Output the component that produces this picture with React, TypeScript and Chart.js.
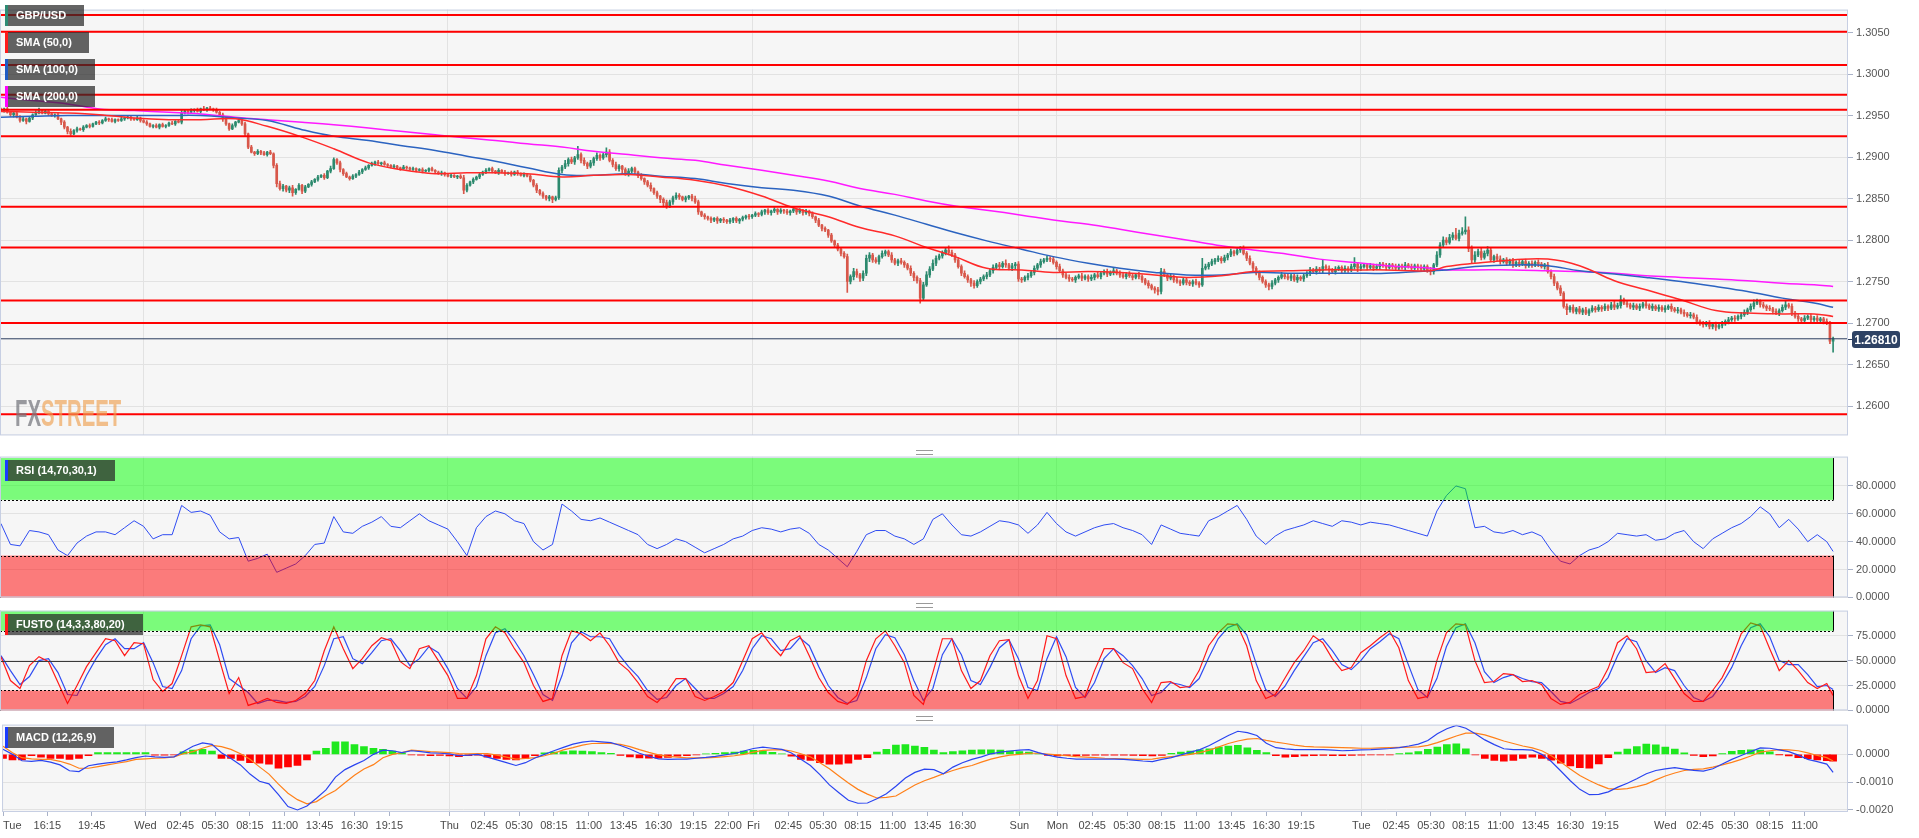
import React, { useEffect, useRef } from "react";
import { Chart, registerables } from "chart.js";

Chart.register(...registerables);

const FONT = "'Liberation Sans', Arial, Helvetica, sans-serif";
const PAGE_W = 1919;
const AXIS_W = 71;

// ---------- time axis (15-minute bars) ----------
const LAST_BAR = 578;
const X_MIN = -0.3;
const X_MAX = 582.7;
const TICK_IDX = [0, 14, 28, 45, 56, 67, 78, 89, 100, 111, 122, 141, 152, 163, 174, 185, 196, 207, 218, 229, 237, 248, 259, 270, 281, 292, 303, 321, 333, 344, 355, 366, 377, 388, 399, 410, 429, 440, 451, 462, 473, 484, 495, 506, 525, 536, 547, 558, 569];
const TICK_LABELS = ["Tue", "16:15", "19:45", "Wed", "02:45", "05:30", "08:15", "11:00", "13:45", "16:30", "19:15", "Thu", "02:45", "05:30", "08:15", "11:00", "13:45", "16:30", "19:15", "22:00", "Fri", "02:45", "05:30", "08:15", "11:00", "13:45", "16:30", "Sun", "Mon", "02:45", "05:30", "08:15", "11:00", "13:45", "16:30", "19:15", "Tue", "02:45", "05:30", "08:15", "11:00", "13:45", "16:30", "19:15", "Wed", "02:45", "05:30", "08:15", "11:00"];
const DAY_IDX = [45, 141, 237, 321, 333, 429, 525];

// ---------- GBP/USD candles: pips above 1.2000 ----------
const FIRST_OPEN = 957;
const CLOSE_PIPS = [
  956, 958, 954, 951, 953, 948, 944, 946, 943, 947,
  951, 954, 956, 953, 955, 952, 950, 951, 946, 942,
  936, 931, 928, 932, 934, 933, 936, 938, 937, 940,
  942, 941, 944, 946, 945, 943, 945, 944, 946, 947,
  948, 946, 945, 947, 944, 942, 940, 937, 938, 936,
  939, 937, 938, 941, 940, 943, 942, 953, 955, 954,
  956, 957, 955, 958, 957, 959, 958, 957, 954, 951,
  946, 940, 934, 938, 942, 944, 940, 928, 912, 906,
  904, 907, 905, 903, 906, 904, 890, 868, 862, 865,
  860, 863, 857, 861, 866, 859, 864, 867, 870, 873,
  876, 878, 875, 883, 886, 897, 893, 885, 880, 876,
  874, 877, 879, 882, 885, 887, 890, 892, 894, 892,
  893, 891, 890, 888, 889, 887, 886, 888, 887, 885,
  886, 884, 885, 883, 884, 886, 884, 882, 880, 881,
  879, 877, 878, 876, 877, 875, 860, 866, 870, 873,
  876, 879, 882, 884, 886, 883, 881, 884, 882, 880,
  881, 879, 882, 880, 878, 879, 877, 872, 866, 860,
  856, 853, 850, 852, 849, 851, 884, 888, 892, 897,
  894, 899, 903, 896, 892, 889, 893, 898, 902, 899,
  903, 906, 896, 891, 886, 889, 885, 880, 883, 886,
  882, 878, 874, 870, 866, 862, 857, 853, 849, 845,
  841, 846, 851, 854, 852, 849, 851, 853, 850, 846,
  834, 830, 828, 826, 824, 826, 823, 825, 824, 822,
  824, 826, 823, 825, 827, 829, 828, 830, 832, 831,
  834, 836, 833, 835, 837, 834, 836, 835, 833, 835,
  837, 834, 836, 833, 835, 832, 828, 824, 818, 814,
  812, 806, 799, 794, 789, 784, 780, 750, 756, 762,
  758, 754, 760, 778, 782, 776, 774, 780, 784, 786,
  782, 776, 772, 775, 773, 770, 766, 760, 755, 751,
  730, 746, 758, 765, 772, 778, 781, 784, 788, 785,
  782, 776, 768, 760, 756, 752, 748, 745, 750, 753,
  756, 758, 763, 767, 770, 768, 772, 770, 766, 769,
  771, 753, 752, 755, 757, 761, 766, 770, 774, 776,
  778, 777, 773, 768, 763, 758, 755, 753, 752, 755,
  757, 754, 756, 753, 755, 758, 756, 760, 762, 759,
  761, 763, 760, 758, 756, 759, 757, 755, 758, 756,
  752, 748, 745, 742, 740, 738, 762, 758, 754, 756,
  752, 750, 748, 752, 749, 747, 750, 748, 746, 766,
  768, 771, 774, 776, 778, 775, 779, 782, 786, 784,
  788, 790, 784, 778, 772, 766, 760, 755, 750, 746,
  744, 748, 752, 755, 758, 756, 754, 757, 752, 755,
  753, 757, 760, 764, 762, 765, 763, 768, 766, 764,
  762, 765, 767, 763, 766, 764, 768, 771, 766, 768,
  770, 767, 769, 766, 768, 771, 769, 767, 770, 768,
  766, 769, 767, 770, 768, 766, 769, 767, 765, 768,
  764, 762, 770, 782, 794, 800, 797, 803, 806, 802,
  808, 810, 812, 790, 776, 782, 786, 779, 784, 788,
  776, 780, 777, 774, 776, 772, 775, 770, 773, 771,
  774, 769, 772, 770, 773, 771, 768, 770, 762, 756,
  748, 742, 736, 720, 716, 719, 714, 717, 713, 716,
  712, 715, 718, 716, 719, 717, 720, 718, 722, 719,
  721, 728, 724, 722, 719, 721, 718, 720, 723, 721,
  718, 720, 717, 719, 716, 718, 720, 717, 715, 716,
  713, 711, 709, 710, 707, 702, 699, 698, 700, 696,
  698, 695, 697, 699, 702, 704, 706, 705, 708, 710,
  713, 716, 720, 724, 726, 722, 720, 718, 717, 714,
  712, 715, 719, 722, 720, 712, 708, 705, 703, 706,
  708, 704, 706, 703, 705, 702, 700, 678, 681,
];
const WICK_UP = [
  2, 1, 3, 1, 2, 1, 2, 3, 1, 2, 1, 2, 3, 1, 2, 1, 2, 1, 2, 1,
  2, 1, 3, 1, 2, 1, 2, 1, 2, 1, 1, 2, 1, 2, 1, 2, 1, 1, 2, 1,
  2, 1, 1, 2, 1, 1, 2, 1, 1, 2, 1, 2, 1, 1, 2, 1, 2, 3, 2, 1,
  2, 1, 2, 1, 3, 1, 2, 1, 2, 1, 2, 3, 1, 2, 1, 2, 1, 2, 1, 2,
  1, 2, 1, 2, 1, 2, 1, 2, 3, 2, 1, 2, 3, 1, 2, 1, 2, 1, 2, 1,
  2, 1, 2, 1, 3, 2, 1, 2, 1, 2, 1, 2, 1, 2, 1, 2, 1, 2, 1, 2,
  1, 2, 1, 1, 2, 1, 1, 2, 1, 1, 2, 1, 1, 2, 1, 1, 2, 1, 1, 2,
  1, 1, 2, 1, 1, 2, 3, 2, 1, 2, 1, 2, 1, 2, 1, 2, 1, 2, 1, 2,
  1, 2, 1, 2, 1, 2, 1, 2, 1, 2, 1, 2, 1, 2, 1, 2, 3, 2, 4, 2,
  3, 2, 10, 2, 3, 2, 3, 2, 3, 2, 2, 5, 3, 2, 3, 2, 1, 2, 3, 2,
  2, 1, 2, 1, 2, 3, 1, 2, 1, 2, 3, 2, 2, 3, 2, 1, 2, 1, 2, 3,
  2, 1, 2, 1, 2, 1, 2, 1, 2, 1, 2, 1, 2, 1, 2, 1, 2, 1, 2, 1,
  2, 1, 2, 1, 2, 1, 2, 1, 2, 1, 2, 1, 2, 1, 2, 1, 2, 1, 2, 1,
  2, 1, 2, 1, 2, 1, 2, 3, 2, 4, 3, 2, 3, 4, 3, 2, 3, 2, 3, 2,
  2, 3, 2, 2, 3, 2, 2, 3, 2, 2, 3, 3, 4, 3, 4, 3, 2, 3, 2, 5,
  3, 2, 3, 2, 3, 2, 2, 3, 2, 2, 2, 3, 2, 3, 2, 3, 2, 4, 2, 3,
  2, 3, 2, 2, 3, 2, 3, 2, 3, 2, 3, 2, 3, 2, 3, 2, 2, 3, 2, 2,
  2, 3, 2, 2, 3, 2, 3, 2, 2, 3, 2, 3, 2, 3, 2, 2, 3, 2, 2, 3,
  2, 2, 3, 2, 2, 3, 4, 3, 2, 3, 2, 3, 2, 2, 3, 2, 2, 3, 2, 12,
  3, 2, 3, 2, 3, 2, 3, 2, 3, 2, 3, 2, 3, 2, 3, 2, 2, 3, 2, 2,
  2, 3, 2, 2, 3, 2, 3, 2, 2, 3, 2, 3, 2, 3, 2, 3, 2, 8, 2, 3,
  2, 3, 2, 2, 3, 2, 3, 8, 2, 3, 2, 2, 3, 2, 3, 2, 2, 3, 2, 2,
  3, 2, 2, 3, 2, 3, 2, 2, 3, 2, 2, 3, 2, 4, 3, 4, 3, 4, 3, 8,
  4, 5, 16, 4, 3, 4, 3, 4, 3, 4, 3, 2, 3, 4, 2, 3, 2, 3, 2, 3,
  2, 3, 2, 3, 2, 3, 2, 2, 3, 2, 3, 2, 3, 2, 3, 2, 3, 2, 3, 2,
  3, 2, 3, 2, 3, 2, 3, 2, 3, 4, 3, 5, 2, 3, 2, 3, 2, 3, 2, 3,
  2, 3, 2, 3, 2, 3, 2, 3, 2, 3, 2, 3, 2, 3, 2, 3, 2, 3, 2, 3,
  2, 3, 2, 3, 2, 3, 2, 3, 2, 3, 3, 2, 3, 4, 3, 2, 3, 2, 3, 2,
  3, 2, 3, 4, 2, 3, 2, 3, 2, 3, 2, 3, 2, 3, 2, 2, 3, 2, 2,
];
const WICK_DN = [
  1, 2, 1, 2, 3, 1, 2, 1, 3, 1, 2, 1, 2, 1, 1, 2, 1, 2, 1, 3,
  2, 3, 2, 1, 2, 1, 2, 1, 2, 1, 1, 2, 1, 1, 2, 1, 2, 1, 1, 2,
  1, 2, 1, 1, 2, 1, 2, 1, 2, 1, 2, 1, 2, 1, 1, 2, 1, 2, 1, 2,
  1, 2, 1, 2, 1, 2, 1, 2, 1, 2, 3, 2, 2, 1, 2, 1, 2, 3, 2, 1,
  2, 1, 2, 1, 2, 1, 3, 4, 2, 3, 2, 3, 4, 2, 1, 3, 2, 1, 2, 1,
  2, 1, 2, 1, 2, 1, 2, 3, 2, 1, 2, 1, 2, 1, 2, 1, 2, 1, 2, 1,
  2, 1, 2, 1, 2, 1, 2, 1, 2, 1, 1, 2, 1, 2, 1, 2, 1, 2, 1, 2,
  2, 1, 2, 1, 2, 1, 4, 2, 1, 2, 1, 2, 1, 2, 1, 2, 1, 2, 1, 2,
  1, 2, 1, 2, 1, 2, 1, 2, 2, 3, 2, 3, 2, 3, 4, 2, 2, 3, 2, 3,
  2, 3, 2, 3, 2, 3, 2, 3, 2, 3, 2, 3, 2, 3, 2, 3, 6, 2, 3, 2,
  2, 3, 2, 3, 2, 3, 2, 3, 4, 5, 3, 2, 3, 2, 3, 2, 3, 2, 3, 2,
  3, 2, 3, 2, 3, 2, 3, 2, 3, 2, 2, 3, 2, 3, 2, 2, 3, 2, 2, 3,
  2, 3, 2, 3, 2, 3, 2, 3, 2, 3, 2, 3, 2, 3, 2, 3, 2, 3, 2, 3,
  2, 3, 2, 3, 2, 3, 2, 13, 3, 4, 3, 4, 3, 3, 4, 3, 2, 3, 2, 3,
  2, 3, 2, 3, 2, 3, 2, 3, 4, 3, 6, 3, 2, 3, 2, 3, 2, 3, 2, 3,
  2, 3, 2, 3, 2, 3, 4, 3, 2, 3, 2, 3, 2, 3, 2, 3, 2, 3, 2, 3,
  4, 3, 3, 2, 3, 2, 3, 2, 3, 2, 2, 3, 2, 3, 2, 3, 2, 3, 2, 3,
  2, 3, 2, 3, 2, 3, 2, 3, 2, 3, 2, 3, 2, 3, 2, 3, 2, 3, 2, 3,
  3, 2, 3, 2, 4, 4, 3, 2, 3, 2, 3, 2, 3, 2, 3, 2, 3, 2, 3, 2,
  2, 3, 2, 3, 2, 3, 2, 3, 2, 3, 2, 3, 2, 3, 2, 3, 2, 3, 2, 3,
  4, 3, 2, 3, 2, 3, 2, 3, 2, 3, 2, 3, 2, 3, 2, 3, 2, 3, 2, 6,
  2, 3, 2, 3, 2, 3, 2, 3, 4, 3, 2, 3, 2, 3, 2, 3, 2, 3, 2, 3,
  2, 3, 2, 3, 2, 3, 2, 3, 2, 3, 3, 4, 3, 2, 3, 2, 3, 2, 3, 2,
  3, 2, 3, 4, 4, 3, 2, 3, 2, 3, 2, 3, 2, 3, 2, 3, 2, 3, 2, 3,
  2, 3, 2, 3, 2, 3, 2, 3, 2, 3, 3, 2, 3, 2, 6, 3, 2, 3, 2, 3,
  2, 3, 2, 3, 2, 3, 2, 3, 2, 3, 2, 3, 2, 3, 2, 3, 2, 3, 2, 3,
  2, 3, 2, 3, 2, 3, 2, 3, 2, 3, 2, 3, 2, 3, 2, 3, 2, 3, 2, 3,
  3, 4, 2, 3, 2, 3, 2, 3, 2, 3, 2, 3, 2, 3, 2, 3, 2, 3, 2, 3,
  2, 3, 2, 3, 2, 3, 2, 3, 2, 3, 2, 3, 2, 3, 2, 3, 2, 3, 13,
];

// ---------- horizontal levels ----------
const LEVELS = [1.3071, 1.3051, 1.3011, 1.2975, 1.2957, 1.2925, 1.284, 1.2791, 1.2727, 1.27, 1.259];
const LAST_PRICE = 1.2681;
const PRICE_TICKS = [1.26, 1.265, 1.27, 1.275, 1.28, 1.285, 1.29, 1.295, 1.3, 1.305];

// ---------- moving averages (pips above 1.2000) ----------
const SMA_IDX = [0, 10, 21, 31, 42, 53, 63, 74, 84, 95, 105, 116, 126, 137, 147, 156, 166, 177, 187, 198, 208, 219, 229, 240, 250, 261, 271, 282, 292, 301, 311, 322, 332, 343, 353, 364, 374, 385, 395, 406, 416, 427, 437, 451, 456, 465, 477, 488, 498, 509, 519, 530, 541, 551, 562, 572, 578];
const SMA50 = [955, 954, 953, 951, 947, 945, 945, 946, 937, 924, 910, 893, 885, 880, 881, 881, 880, 876, 878, 879, 876, 872, 865, 853, 839, 828, 815, 805, 791, 780, 766, 764, 761, 762, 761, 758, 755, 757, 762, 763, 764, 764, 764, 763, 768, 772, 776, 777, 769, 751, 740, 728, 715, 712, 711, 711, 708];
const SMA100 = [948, 949, 950, 950, 950, 950, 950, 947, 944, 933, 925, 920, 914, 908, 901, 895, 887, 879, 878, 880, 877, 874, 868, 863, 860, 853, 841, 830, 819, 809, 799, 789, 780, 772, 766, 761, 758, 758, 761, 760, 760, 760, 760, 763, 764, 768, 770, 769, 763, 759, 755, 750, 744, 738, 730, 724, 719];
const SMA200 = [972, 968, 964, 958, 956, 954, 952, 948, 945, 942, 939, 935, 931, 927, 923, 920, 916, 912, 907, 903, 899, 896, 890, 884, 878, 871, 862, 855, 847, 841, 836, 830, 824, 819, 813, 806, 800, 793, 788, 783, 777, 773, 769, 766, 764, 764, 764, 763, 762, 760, 757, 755, 753, 751, 748, 746, 744];

// ---------- oscillators, sampled every 3 bars (last value = last bar) ----------
const OSC_STEP = 3;
const RSI = [
  53, 38, 37, 48, 47, 45, 34, 30, 39, 44, 47, 47, 45, 50, 55, 51, 42, 45, 45, 66,
  61, 62, 59, 47, 42, 43, 26, 28, 31, 18, 21, 24, 30, 38, 39, 58, 47, 46, 51, 54,
  58, 51, 50, 55, 60, 55, 52, 49, 40, 30, 50, 58, 62, 60, 55, 53, 40, 34, 38, 67,
  62, 56, 55, 57, 54, 51, 48, 45, 38, 35, 38, 42, 40, 36, 32, 35, 38, 42, 44, 48,
  50, 49, 47, 49, 50, 46, 38, 34, 28, 22, 33, 45, 48, 48, 44, 42, 38, 42, 56, 60,
  52, 45, 44, 47, 51, 55, 54, 52, 46, 52, 61, 53, 47, 44, 47, 50, 52, 53, 50, 48,
  45, 38, 52, 49, 46, 45, 44, 55, 58, 62, 66, 56, 44, 38, 44, 48, 50, 52, 55, 53,
  51, 55, 54, 52, 54, 53, 52, 50, 48, 46, 44, 62, 73, 80, 78, 50, 51, 47, 46, 48,
  45, 47, 44, 34, 26, 24, 30, 34, 36, 40, 46, 45, 44, 45, 41, 42, 46, 48, 40, 35,
  42, 46, 50, 53, 58, 65, 60, 50, 56, 49, 40, 45, 40, 33,
];
const STOCH_K = [
  54, 30, 22, 45, 54, 49, 28, 7, 25, 44, 58, 72, 70, 55, 68, 67, 31, 19, 27, 55,
  84, 86, 84, 50, 17, 33, 5, 8, 12, 8, 7, 10, 17, 30, 60, 84, 62, 42, 52, 65,
  73, 70, 49, 42, 62, 65, 50, 35, 12, 12, 35, 72, 84, 78, 62, 48, 25, 9, 12, 55,
  80, 77, 70, 78, 65, 48, 40, 28, 14, 8, 18, 32, 32, 14, 10, 14, 19, 28, 50, 72,
  78, 65, 55, 70, 75, 55, 33, 18, 9, 6, 15, 50, 72, 80, 65, 48, 15, 6, 38, 72,
  72, 40, 22, 30, 55, 70, 71, 35, 12, 30, 75, 72, 35, 12, 14, 40, 62, 62, 48, 42,
  22, 8, 28, 29, 23, 24, 40, 65, 78, 87, 86, 65, 30, 12, 16, 32, 48, 60, 75, 68,
  52, 40, 43, 58, 65, 73, 80, 63, 30, 12, 14, 50, 78, 87, 86, 50, 28, 29, 37, 36,
  29, 30, 26, 12, 6, 8, 16, 20, 24, 42, 68, 75, 62, 38, 39, 47, 32, 17, 9, 9,
  20, 33, 52, 77, 88, 85, 62, 40, 50, 40, 28, 22, 27, 15,
];
const STOCH_D = [
  55, 40, 26, 34, 50, 52, 38, 16, 15, 35, 52, 66, 72, 62, 62, 68, 48, 24, 22, 40,
  72, 85, 86, 66, 32, 25, 18, 7, 10, 10, 8, 9, 14, 24, 45, 72, 74, 52, 47, 58,
  70, 72, 60, 45, 52, 64, 58, 42, 22, 12, 24, 55, 78, 82, 70, 55, 36, 16, 10, 35,
  68, 79, 74, 74, 72, 56, 44, 34, 20, 11, 13, 25, 32, 22, 12, 12, 17, 24, 40, 62,
  75, 72, 60, 62, 73, 65, 44, 25, 13, 7, 10, 33, 62, 76, 73, 56, 30, 10, 22, 56,
  72, 56, 30, 26, 43, 63, 71, 52, 23, 20, 52, 74, 54, 23, 13, 28, 52, 62, 55, 45,
  32, 15, 18, 28, 26, 23, 32, 53, 72, 83, 87, 76, 47, 21, 14, 24, 40, 54, 68, 72,
  60, 46, 41, 50, 62, 69, 77, 72, 46, 21, 13, 32, 64, 83, 87, 68, 39, 28, 33, 36,
  32, 29, 28, 19, 9, 7, 12, 18, 22, 33, 55, 72, 69, 50, 38, 43, 40, 25, 13, 9,
  14, 27, 43, 65, 83, 87, 74, 50, 46, 46, 36, 24, 25, 21,
];
// MACD values in units of 0.0001
const MACD = [
  1.8, 0.0, -2.3, -2.5, -2.2, -2.8, -3.8, -5.9, -6.2, -4.1, -3.5, -3.1, -2.7, -2.0, -1.2, -0.6, -0.9, -1.1, -0.9, 1.0,
  2.9, 4.1, 3.6, 0.6, -1.5, -3.8, -7.1, -9.7, -10.6, -14.5, -18.8, -20.0, -18.6, -15.8, -12.8, -8.2, -5.5, -3.8, -2.2, 0.0,
  1.5, 1.3, 0.6, 1.3, 1.0, 0.5, 0.4, 0.2, -0.5, -0.3, 0.0, -1.0, -2.0, -3.0, -4.0, -3.0, -1.3, 0.0, 1.3, 2.5,
  3.7, 4.4, 4.8, 4.5, 4.2, 3.2, 1.9, 0.4, -0.7, -1.6, -1.8, -1.7, -1.7, -1.4, -1.1, -0.7, -0.2, 0.3, 1.2, 2.1,
  2.6, 2.2, 1.8, 0.5, -1.8, -4.0, -7.3, -11.0, -13.8, -16.5, -17.6, -17.5, -16.0, -14.2, -11.5, -8.5, -6.5, -5.3, -5.5, -7.0,
  -4.6, -3.0, -1.8, -0.9, 0.2, 0.8, 1.2, 1.5, 1.7, 0.6, -0.3, -1.0, -1.4, -1.7, -1.7, -1.7, -1.7, -1.7, -1.8, -2.1,
  -2.4, -2.6, -1.8, -1.2, -0.2, 0.8, 1.7, 3.2, 5.0, 6.8, 8.3, 7.8, 6.8, 4.0, 2.4, 2.0, 1.7, 1.7, 1.7, 1.7,
  1.5, 1.3, 1.4, 1.6, 1.7, 1.9, 2.1, 2.4, 3.0, 3.7, 5.0, 7.4, 9.2, 10.4, 9.4, 7.4, 5.2, 3.5, 2.0, 1.7,
  1.7, 1.5, 0.0, -2.6, -6.0, -9.5, -12.6, -14.5, -14.4, -13.5, -11.8, -10.4, -8.8, -7.0, -5.8, -5.2, -4.8, -5.3, -5.8, -6.0,
  -5.2, -3.5, -1.8, -0.4, 1.0, 2.3, 2.2, 1.6, 1.0, -0.3, -1.8, -2.6, -3.5, -6.5,
];
const MACD_SIGNAL = [
  2.9, 0.6, -1.2, -1.6, -1.8, -1.8, -2.5, -3.5, -5.0, -5.0, -4.4, -3.8, -3.2, -2.6, -1.8, -1.6, -1.4, -1.3, -0.9, 0.2,
  1.0, 2.2, 3.2, 2.8, 1.8, 0.2, -1.8, -4.5, -7.1, -10.7, -14.0, -16.3, -17.8, -17.0, -14.8, -13.0, -10.2, -7.5, -5.3, -3.7,
  -1.2, 0.0, 0.6, 1.5, 1.3, 1.0, 0.8, 0.6, 0.3, 0.2, 0.3, 0.3, -0.3, -1.0, -1.7, -1.5, -1.2, -0.5, 0.4, 1.6,
  2.4, 3.3, 3.9, 4.0, 3.9, 3.6, 2.8, 1.7, 0.7, -0.2, -0.7, -1.0, -1.3, -1.3, -1.3, -1.1, -0.8, -0.5, 0.0, 0.8,
  1.4, 1.6, 1.7, 1.2, 0.2, -0.9, -3.0, -5.2, -7.8, -10.3, -12.6, -14.3, -15.7, -15.5, -15.0, -13.0, -11.0, -9.5, -8.3, -7.0,
  -5.8, -4.8, -4.0, -2.8, -1.7, -0.9, -0.3, 0.0, 0.4, 0.4, 0.1, -0.2, -0.5, -0.8, -1.0, -1.2, -1.4, -1.5, -1.6, -1.7,
  -1.8, -1.7, -1.2, -0.8, -0.5, 0.0, 0.6, 1.5, 2.7, 3.9, 4.8, 5.5, 5.7, 5.0, 4.4, 3.9, 3.3, 2.9, 2.7, 2.6,
  2.5, 2.4, 2.3, 2.2, 2.2, 2.3, 2.4, 2.5, 2.6, 2.7, 3.2, 4.2, 5.4, 6.6, 7.6, 7.6, 7.0, 5.9, 4.8, 3.9,
  3.0, 2.3, 1.3, -0.5, -2.8, -5.3, -7.6, -9.4, -11.0, -12.3, -12.6, -12.3, -11.6, -10.7, -9.2, -7.8, -6.7, -5.8, -5.4, -5.2,
  -4.6, -3.8, -2.9, -1.8, -0.6, 0.8, 1.3, 1.7, 1.6, 1.3, 0.5, -0.4, -1.2, -2.4,
];
const MACD_HIST = [
  -1.5, -2.0, -2.0, -0.5, -1.0, -1.5, -1.5, -1.8, -1.5, -0.5, 0.6, 0.6, 0.6, 0.6, 0.6, 0.6, -0.3, -0.3, -0.2, 0.9,
  1.5, 1.8, 1.2, -1.5, -1.5, -2.2, -3.0, -3.2, -3.5, -5.0, -4.5, -4.0, -2.0, 1.2, 2.2, 4.5, 4.5, 3.5, 2.8, 2.2,
  1.8, 1.2, 0.5, -0.2, -0.3, -0.5, -0.4, -0.6, -0.8, -0.5, -0.3, -1.0, -1.5, -1.8, -2.0, -1.5, -0.5, 0.5, 0.8, 1.0,
  1.3, 1.2, 1.0, 0.6, 0.4, -0.4, -0.9, -1.3, -1.4, -1.4, -1.1, -0.7, -0.5, -0.2, 0.2, 0.4, 0.6, 0.8, 1.2, 1.4,
  1.3, 0.7, 0.2, -0.7, -1.8, -2.2, -3.0, -3.5, -3.5, -3.2, -1.8, -1.2, 0.8, 1.8, 3.3, 3.5, 3.0, 2.5, 1.5, 0.6,
  1.0, 1.3, 1.5, 1.6, 1.6, 1.5, 1.2, 1.0, 0.8, 0.2, -0.4, -0.6, -0.5, -0.5, -0.4, -0.3, -0.3, -0.3, -0.3, -0.4,
  -0.5, -0.6, -0.4, 0.4, 0.8, 1.2, 1.6, 2.0, 2.6, 3.0, 3.2, 2.3, 1.4, 0.6, -0.5, -1.0, -0.8, -0.6, -0.5, -0.4,
  -0.5, -0.5, -0.4, -0.3, -0.2, -0.2, -0.2, 0.3, 0.5, 1.0, 1.8, 2.6, 3.5, 3.8, 2.0, -0.2, -1.5, -2.2, -2.5, -2.2,
  -1.5, -1.0, -1.5, -2.1, -3.2, -4.2, -4.8, -5.0, -3.4, -1.2, 0.8, 1.9, 2.8, 3.7, 3.4, 2.6, 1.9, 0.5, -0.4, -0.8,
  -0.6, 0.3, 1.1, 1.4, 1.6, 1.5, 0.9, -0.1, -0.6, -1.2, -1.6, -2.0, -2.3, -2.5,
];

// ---------- helpers ----------
const toPrice = (p: number) => 1.2 + p / 10000;
const oscX = (i: number) => Math.min(i * OSC_STEP, LAST_BAR);
const oscPts = (arr: number[], k = 1) => arr.map((v, i) => ({ x: oscX(i), y: v * k }));
const fmt4 = (v: any) => Number(v).toFixed(4);

function xScale(showLabels: boolean): any {
  return {
    type: "linear",
    position: "bottom",
    min: X_MIN,
    max: X_MAX,
    offset: false,
    afterBuildTicks: (s: any) => {
      s.ticks = [...TICK_IDX.map((v) => ({ value: v })), { value: X_MAX }];
    },
    afterFit: (s: any) => {
      s.height = showLabels ? 26 : 0;
    },
    grid: {
      display: true,
      offset: false,
      drawOnChartArea: true,
      drawTicks: showLabels,
      tickLength: 4,
      color: (c: any) => (c.tick && DAY_IDX.includes(c.tick.value) ? "#e2e2e2" : "rgba(0,0,0,0)"),
      tickColor: (c: any) => (c.tick && c.tick.value < X_MAX - 0.01 ? "#a9b2c8" : "rgba(0,0,0,0)"),
    },
    border: { display: false },
    ticks: {
      display: showLabels,
      autoSkip: false,
      maxRotation: 0,
      minRotation: 0,
      align: "inner",
      padding: 3,
      color: "#4a4a4a",
      font: { family: FONT, size: 11 },
      callback: (_v: any, i: number) => TICK_LABELS[i] ?? "",
    },
  };
}

function yScale(min: number, max: number, ticks: number[]): any {
  return {
    type: "linear",
    position: "right",
    min,
    max,
    beginAtZero: false,
    afterBuildTicks: (s: any) => {
      s.ticks = ticks.map((v) => ({ value: v }));
    },
    afterFit: (s: any) => {
      s.width = AXIS_W;
    },
    grid: { color: "#e2e2e2", tickColor: "#a9b2c8", tickLength: 5, drawTicks: true },
    border: { display: false },
    ticks: { color: "#555555", font: { family: FONT, size: 11 }, padding: 3, callback: fmt4 },
  };
}

const panelPlugin = {
  id: "panel",
  beforeDraw(chart: any) {
    const { ctx, chartArea: a } = chart;
    ctx.save();
    ctx.fillStyle = "#f6f6f6";
    ctx.fillRect(a.left, a.top, a.right - a.left, a.bottom - a.top);
    ctx.restore();
  },
  afterDraw(chart: any) {
    const { ctx, chartArea: a } = chart;
    ctx.save();
    ctx.strokeStyle = "#c7cfe3";
    ctx.lineWidth = 1;
    ctx.strokeRect(a.left + 0.5, a.top + 0.5, a.right - a.left - 1, a.bottom - a.top - 1);
    ctx.restore();
  },
};

function zonesPlugin(zones: any[], mid: number | null) {
  return {
    id: "zones",
    afterDatasetsDraw(chart: any) {
      const { ctx, chartArea: a, scales } = chart;
      const x0 = a.left;
      const x1 = Math.round(scales.x.getPixelForValue(LAST_BAR)) + 0.5;
      const ys = scales.y;
      ctx.save();
      if (mid != null) {
        const ym = Math.round(ys.getPixelForValue(mid)) + 0.5;
        ctx.strokeStyle = "#3a3a3a";
        ctx.lineWidth = 1;
        ctx.beginPath();
        ctx.moveTo(a.left, ym);
        ctx.lineTo(a.right, ym);
        ctx.stroke();
      }
      for (const z of zones) {
        const yT = ys.getPixelForValue(z.to);
        const yB = ys.getPixelForValue(z.from);
        ctx.fillStyle = z.color;
        ctx.fillRect(x0, yT, x1 - x0, yB - yT);
        ctx.strokeStyle = "#000";
        ctx.lineWidth = 1;
        ctx.setLineDash([]);
        ctx.beginPath();
        ctx.moveTo(x0 + 0.5, yT);
        ctx.lineTo(x0 + 0.5, yB);
        ctx.moveTo(x1, yT);
        ctx.lineTo(x1, yB);
        ctx.stroke();
        const ye = Math.round(ys.getPixelForValue(z.edge)) + 0.5;
        ctx.setLineDash([2, 2]);
        ctx.beginPath();
        ctx.moveTo(x0, ye);
        ctx.lineTo(x1, ye);
        ctx.stroke();
      }
      ctx.restore();
    },
  };
}

const priceTagPlugin = {
  id: "priceTag",
  afterDraw(chart: any) {
    const { ctx, chartArea: a, scales } = chart;
    const y = Math.round(scales.y.getPixelForValue(LAST_PRICE));
    ctx.save();
    ctx.strokeStyle = "#2b3d5e";
    ctx.lineWidth = 1;
    ctx.beginPath();
    ctx.moveTo(a.right, y + 0.5);
    ctx.lineTo(a.right + 5, y + 0.5);
    ctx.stroke();
    const bx = a.right + 4, bw = 48, bh = 17, by = y - 8;
    ctx.fillStyle = "#2e4264";
    ctx.beginPath();
    if (ctx.roundRect) ctx.roundRect(bx, by, bw, bh, 3);
    else ctx.rect(bx, by, bw, bh);
    ctx.fill();
    ctx.fillStyle = "#ffffff";
    ctx.font = `bold 12px ${FONT}`;
    ctx.textAlign = "center";
    ctx.textBaseline = "middle";
    ctx.fillText(LAST_PRICE.toFixed(5), bx + bw / 2, by + bh / 2 + 1);
    ctx.restore();
  },
};

const baseOptions = (padTop: number, padBottom: number) => ({
  responsive: false,
  animation: false,
  events: [],
  layout: { autoPadding: false, padding: { top: padTop, bottom: padBottom, left: 0, right: 0 } },
  plugins: { legend: { display: false }, tooltip: { enabled: false } },
});

const lineDs = (data: any[], color: string, width: number, order: number, tension = 0) => ({
  type: "line",
  data,
  borderColor: color,
  borderWidth: width,
  pointRadius: 0,
  tension,
  fill: false,
  order,
});

// ---------- component ----------
const MAIN = { top: 0, h: 445 };
const RSI_C = { top: 447, h: 160 };
const STO_C = { top: 601, h: 119 };
const MACD_C = { top: 715, h: 123 };

const legendBox = (label: string, color: string, left: number, top: number, width: number): any => (
  <div
    key={label}
    style={{
      position: "absolute",
      left,
      top,
      width,
      height: 21,
      boxSizing: "border-box",
      background: "rgba(40,40,40,0.72)",
      borderLeft: `3px solid ${color}`,
      color: "#ffffff",
      font: `bold 11px ${FONT}`,
      lineHeight: "21px",
      paddingLeft: 8,
      whiteSpace: "nowrap",
      zIndex: 5,
    }}
  >
    {label}
  </div>
);

const handle = (top: number) => (
  <div
    key={"h" + top}
    style={{
      position: "absolute",
      left: 916,
      top,
      width: 17,
      height: 3,
      borderTop: "1px solid #9a9a9a",
      borderBottom: "1px solid #9a9a9a",
      zIndex: 5,
    }}
  />
);

export default function App() {
  const mainRef = useRef<HTMLCanvasElement>(null);
  const rsiRef = useRef<HTMLCanvasElement>(null);
  const stoRef = useRef<HTMLCanvasElement>(null);
  const macdRef = useRef<HTMLCanvasElement>(null);

  useEffect(() => {
    Chart.defaults.font.family = FONT;
    const charts: Chart[] = [];

    // ----- candles -----
    const bars = CLOSE_PIPS.map((c, i) => {
      const o = i === 0 ? FIRST_OPEN : CLOSE_PIPS[i - 1];
      return { i, o, c, h: Math.max(o, c) + WICK_UP[i], l: Math.min(o, c) - WICK_DN[i] };
    });
    const UP = "#2c8a6e";
    const DOWN = "#d8574a";
    const colors = bars.map((b) => (b.c >= b.o ? UP : DOWN));
    const wickDs: any = {
      type: "bar",
      data: bars.map((b) => ({ x: b.i, y: [toPrice(b.l), toPrice(b.h)] })),
      backgroundColor: colors,
      barThickness: 1,
      grouped: false,
      borderWidth: 0,
      order: 20,
    };
    const bodyDs: any = {
      type: "bar",
      data: bars.map((b) => {
        const lo = Math.min(b.o, b.c);
        const hi = Math.max(b.o, b.c);
        return { x: b.i, y: hi - lo < 0.3 ? [toPrice(lo - 0.15), toPrice(hi + 0.15)] : [toPrice(lo), toPrice(hi)] };
      }),
      backgroundColor: colors,
      barThickness: 2,
      grouped: false,
      borderWidth: 0,
      order: 19,
    };
    const smaPts = (arr: number[]) => arr.map((v, k) => ({ x: SMA_IDX[k], y: toPrice(v) }));
    const levelDs = LEVELS.map((L) =>
      lineDs([{ x: X_MIN, y: L }, { x: X_MAX, y: L }], "#ff0000", 2, 2)
    );

    charts.push(
      new Chart(mainRef.current as any, {
        type: "line",
        data: {
          datasets: [
            wickDs,
            bodyDs,
            lineDs(smaPts(SMA200), "#ff19ff", 1.5, 8, 0.4),
            lineDs(smaPts(SMA100), "#2b63c0", 1.5, 7, 0.4),
            lineDs(smaPts(SMA50), "#ff2a2a", 1.5, 6, 0.4),
            ...levelDs,
            lineDs([{ x: X_MIN, y: LAST_PRICE }, { x: X_MAX, y: LAST_PRICE }], "#2b3d5e", 1, 1),
          ] as any,
        },
        options: {
          ...baseOptions(0, 0),
          scales: { x: xScale(false), y: yScale(1.25646, 1.307765, PRICE_TICKS) },
        } as any,
        plugins: [panelPlugin, priceTagPlugin],
      })
    );

    // ----- RSI -----
    charts.push(
      new Chart(rsiRef.current as any, {
        type: "line",
        data: { datasets: [lineDs(oscPts(RSI), "#2f4cf2", 1, 2)] as any },
        options: {
          ...baseOptions(8, 8),
          scales: { x: xScale(false), y: yScale(0, 101.05, [0, 20, 40, 60, 80]) },
        } as any,
        plugins: [
          panelPlugin,
          zonesPlugin(
            [
              { from: 70, to: 100, edge: 70, color: "rgba(0,255,0,0.5)" },
              { from: 0, to: 30, edge: 30, color: "rgba(255,0,0,0.5)" },
            ],
            null
          ),
        ],
      })
    );

    // ----- FUSTO -----
    charts.push(
      new Chart(stoRef.current as any, {
        type: "line",
        data: {
          datasets: [
            lineDs(oscPts(STOCH_D), "#2f4cf2", 1.2, 3),
            lineDs(oscPts(STOCH_K), "#ff1a1a", 1.2, 2),
          ] as any,
        },
        options: {
          ...baseOptions(8, 8),
          scales: { x: xScale(false), y: yScale(0, 100.3, [0, 25, 50, 75]) },
        } as any,
        plugins: [
          panelPlugin,
          zonesPlugin(
            [
              { from: 80, to: 100, edge: 80, color: "rgba(0,255,0,0.5)" },
              { from: 0, to: 20, edge: 20, color: "rgba(255,0,0,0.5)" },
            ],
            50
          ),
        ],
      })
    );

    // ----- MACD -----
    charts.push(
      new Chart(macdRef.current as any, {
        type: "line",
        data: {
          datasets: [
            {
              type: "bar",
              data: oscPts(MACD_HIST, 1e-4),
              backgroundColor: MACD_HIST.map((v) => (v >= 0 ? "#1ee81e" : "#ff0000")),
              barThickness: 7,
              borderWidth: 0,
              order: 5,
            },
            lineDs(oscPts(MACD_SIGNAL, 1e-4), "#ff8019", 1.2, 3),
            lineDs(oscPts(MACD, 1e-4), "#2a44f0", 1.2, 2),
          ] as any,
        },
        options: {
          ...baseOptions(8, 0),
          scales: { x: xScale(true), y: yScale(-0.002074, 0.00107, [-0.002, -0.001, 0]) },
        } as any,
        plugins: [panelPlugin],
      })
    );

    return () => charts.forEach((c) => c.destroy());
  }, []);

  const canvasStyle = (top: number, h: number): any => ({
    position: "absolute",
    left: 0,
    top,
    width: PAGE_W,
    height: h,
    display: "block",
  });

  return (
    <div
      style={{
        position: "fixed",
        left: 0,
        top: 0,
        width: PAGE_W,
        height: 838,
        overflow: "hidden",
        background: "#ffffff",
      }}
    >
      <canvas ref={mainRef} width={PAGE_W} height={MAIN.h} style={canvasStyle(MAIN.top, MAIN.h)} />
      <canvas ref={rsiRef} width={PAGE_W} height={RSI_C.h} style={canvasStyle(RSI_C.top, RSI_C.h)} />
      <canvas ref={stoRef} width={PAGE_W} height={STO_C.h} style={canvasStyle(STO_C.top, STO_C.h)} />
      <canvas ref={macdRef} width={PAGE_W} height={MACD_C.h} style={canvasStyle(MACD_C.top, MACD_C.h)} />

      {legendBox("GBP/USD", "#2e8b74", 5, 5, 79)}
      {legendBox("SMA (50,0)", "#ff1a1a", 5, 32, 84)}
      {legendBox("SMA (100,0)", "#1f5bc4", 5, 59, 90)}
      {legendBox("SMA (200,0)", "#ff00ff", 5, 86, 90)}
      {legendBox("RSI (14,70,30,1)", "#1a3cff", 5, 460, 110)}
      {legendBox("FUSTO (14,3,3,80,20)", "#ff1a1a", 5, 614, 138)}
      {legendBox("MACD (12,26,9)", "#1a3cff", 5, 727, 109)}

      <div
        style={{
          position: "absolute",
          left: 15,
          top: 395,
          font: `bold 37px ${FONT}`,
          lineHeight: "37px",
          letterSpacing: "0px",
          transform: "scaleX(0.55)",
          transformOrigin: "left top",
          whiteSpace: "nowrap",
          zIndex: 4,
        }}
      >
        <span style={{ color: "rgba(120,122,128,0.75)" }}>FX</span>
        <span style={{ color: "rgba(238,160,80,0.65)" }}>STREET</span>
      </div>

      {handle(450)}
      {handle(603)}
      {handle(716)}
    </div>
  );
}
